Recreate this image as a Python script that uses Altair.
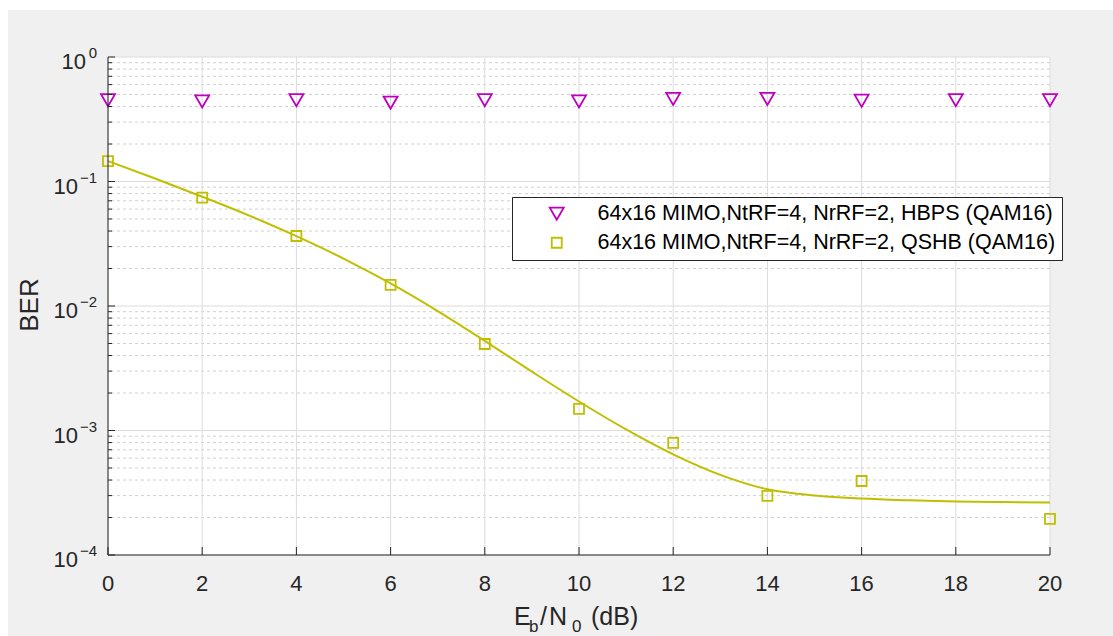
import altair as alt
import pandas as pd

# ---------------- data ----------------
snr_hbps = [0, 2, 4, 6, 8, 10, 12, 14, 16, 18, 20]
ber_hbps = [0.45, 0.44, 0.45, 0.43, 0.45, 0.44, 0.46, 0.46, 0.445, 0.45, 0.45]

snr_qshb = [0, 2, 4, 6, 8, 10, 12, 14, 16, 20]
ber_qshb = [0.146, 0.0741, 0.0365, 0.0148, 0.00495, 0.00149, 0.000794, 0.000298, 0.000393, 0.000195]

snr_fit = [0, 1, 2, 3, 4, 5, 6, 7, 8, 9, 10, 11, 12, 13, 14, 15, 16, 17, 18, 19, 20]
ber_fit = [0.1459, 0.1057, 0.0755, 0.0532, 0.0364, 0.02404, 0.01517, 0.00910, 0.00524,
           0.00297, 0.00171, 0.00102, 0.000643, 0.000440, 0.000337, 0.000301, 0.000284,
           0.000275, 0.000269, 0.000266, 0.000264]

series_names = ["64x16 MIMO,NtRF=4, NrRF=2, HBPS (QAM16)",
                "64x16 MIMO,NtRF=4, NrRF=2, QSHB (QAM16)"]

x_ticks = [0, 2, 4, 6, 8, 10, 12, 14, 16, 18, 20]
x_tick_labels = ["0", "2", "4", "6", "8", "10", "12", "14", "16", "18", "20"]
y_decades = [1, 0.1, 0.01, 0.001, 0.0001]
y_exponents = ["0", "\u22121", "\u22122", "\u22123", "\u22124"]
minor_factors = [2, 3, 4, 5, 6, 7, 8, 9]

# ---------------- styling ----------------
W, H = 942, 498
FONT = "Liberation Sans"
AXC = "#262626"
MAGENTA = "#bf00bf"
OLIVE = "#bfbf00"

xscale = alt.Scale(domain=[0, 20], nice=False, zero=False)
yscale = alt.Scale(type="log", domain=[0.0001, 1], nice=False)

one = pd.DataFrame({"k": [0]})
dec_df = pd.DataFrame({"v": y_decades, "e": y_exponents})
minor_df = pd.DataFrame({"v": [f * d for d in y_decades[1:] for f in minor_factors]})
xt_df = pd.DataFrame({"x": x_ticks, "lab": x_tick_labels})

pts_df = pd.DataFrame({
    "snr": snr_hbps + snr_qshb,
    "ber": ber_hbps + ber_qshb,
    "series": [series_names[0]] * len(snr_hbps) + [series_names[1]] * len(snr_qshb),
})
fit_df = pd.DataFrame({"snr": snr_fit, "ber": ber_fit})

# background panels
bg = alt.Chart(one).mark_rect(color="#f0f0f0").encode(
    x=alt.value(-100), x2=alt.value(1005), y=alt.value(-47), y2=alt.value(579))
plotbg = alt.Chart(one).mark_rect(color="white").encode(
    x=alt.value(0), x2=alt.value(W), y=alt.value(0), y2=alt.value(H))

# grid
minor_grid = alt.Chart(minor_df).mark_rule(color="#d0d0d0", strokeDash=[3, 3], strokeWidth=1).encode(
    y=alt.Y("v:Q", scale=yscale, axis=None))
major_ygrid = alt.Chart(dec_df).mark_rule(color="#dcdcdc", strokeWidth=1).encode(
    y=alt.Y("v:Q", scale=yscale, axis=None))
xgrid = alt.Chart(xt_df).mark_rule(color="#dcdcdc", strokeWidth=1).encode(
    x=alt.X("x:Q", scale=xscale, axis=None))

# axis lines (left and bottom only, as in the reference)
y_axis_line = alt.Chart(one).mark_rule(color=AXC, strokeWidth=1).encode(
    x=alt.value(0), y=alt.value(0), y2=alt.value(H))
x_axis_line = alt.Chart(one).mark_rule(color=AXC, strokeWidth=1).encode(
    x=alt.value(0), x2=alt.value(W), y=alt.value(H))

# inward ticks
xtick_marks = alt.Chart(xt_df).mark_rule(color=AXC, strokeWidth=1).encode(
    x=alt.X("x:Q", scale=xscale, axis=None), y=alt.value(H), y2=alt.value(H - 8))
ymaj_ticks = alt.Chart(dec_df).mark_rule(color=AXC, strokeWidth=1).encode(
    y=alt.Y("v:Q", scale=yscale, axis=None), x=alt.value(0), x2=alt.value(7))
ymin_ticks = alt.Chart(minor_df).mark_rule(color=AXC, strokeWidth=1).encode(
    y=alt.Y("v:Q", scale=yscale, axis=None), x=alt.value(0), x2=alt.value(4))

# x tick labels
xlabels = alt.Chart(xt_df).mark_text(
    align="center", baseline="alphabetic", fontSize=22, font=FONT, color=AXC
).encode(x=alt.X("x:Q", scale=xscale, axis=None), y=alt.value(H + 36), text="lab:N")

# y tick labels: "10" with superscript exponent
ylab_a = alt.Chart(dec_df).transform_filter("length(datum.e) == 1").mark_text(
    text="10", align="right", baseline="alphabetic", dy=12, fontSize=22, font=FONT, color=AXC
).encode(y=alt.Y("v:Q", scale=yscale, axis=None), x=alt.value(-22))
ylab_b = alt.Chart(dec_df).transform_filter("length(datum.e) == 2").mark_text(
    text="10", align="right", baseline="alphabetic", dy=12, fontSize=22, font=FONT, color=AXC
).encode(y=alt.Y("v:Q", scale=yscale, axis=None), x=alt.value(-30))
yexp = alt.Chart(dec_df).mark_text(
    align="right", baseline="alphabetic", dy=1, fontSize=15, font=FONT, color=AXC
).encode(y=alt.Y("v:Q", scale=yscale, axis=None), x=alt.value(-11), text="e:N")

# axis titles
def txt(s, x, y, size, angle=0):
    kw = dict(text=s, align="left", baseline="alphabetic", fontSize=size, font=FONT, color=AXC)
    if angle:
        kw["angle"] = angle
        kw["align"] = "center"
    return alt.Chart(one).mark_text(**kw).encode(x=alt.value(x), y=alt.value(y))

xt_E = txt("E", 406, 568, 25)
xt_b = txt("b", 421, 575, 17)
xt_sl = txt("/", 432, 568, 25)
xt_N = txt("N", 441, 568, 25)
xt_0 = txt("0", 464, 575, 17)
xt_dB = txt("(dB)", 483, 568, 25)
yt = txt("BER", -70, 248, 26, angle=270)

# data
fit_line = alt.Chart(fit_df).mark_line(color=OLIVE, strokeWidth=2, interpolate="monotone").encode(
    x=alt.X("snr:Q", scale=xscale, axis=None),
    y=alt.Y("ber:Q", scale=yscale, axis=None))

points = alt.Chart(pts_df).mark_point(filled=False, strokeWidth=1.8, opacity=1).encode(
    x=alt.X("snr:Q", scale=xscale, axis=None),
    y=alt.Y("ber:Q", scale=yscale, axis=None),
    color=alt.Color("series:N", scale=alt.Scale(domain=series_names, range=[MAGENTA, OLIVE]), title=None),
    shape=alt.Shape("series:N", scale=alt.Scale(domain=series_names, range=["triangle-down", "square"]), title=None),
    size=alt.Size("series:N", scale=alt.Scale(domain=series_names, range=[196, 100]), title=None),
)

chart = alt.layer(
    bg, plotbg, minor_grid, major_ygrid, xgrid, fit_line, points,
    y_axis_line, x_axis_line, xtick_marks, ymaj_ticks, ymin_ticks,
    xlabels, ylab_a, ylab_b, yexp,
    xt_E, xt_b, xt_sl, xt_N, xt_0, xt_dB, yt,
).properties(
    width=W, height=H,
    autosize=alt.AutoSizeParams(type="none"),
    padding={"left": 108, "top": 57, "right": 63, "bottom": 81},
    background="white",
).configure_view(
    stroke="transparent"
).configure_legend(
    orient="none", legendX=404, legendY=140,
    fillColor="white", strokeColor=AXC, strokeWidth=1, padding=6, cornerRadius=0,
    labelFontSize=21.5, labelFont=FONT, labelColor="black", labelLimit=1000,
    symbolOffset=28, labelOffset=30, rowPadding=6, symbolStrokeWidth=1.8,
)

chart.save("out.html", embed_options={"renderer": "svg", "actions": False})
